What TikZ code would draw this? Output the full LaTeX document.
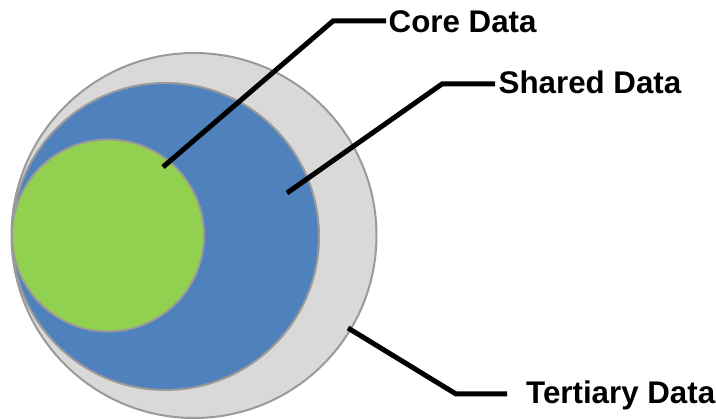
\documentclass[tikz,border=0pt]{standalone}
\usepackage{fontspec}
\setmainfont{Liberation Sans}
\begin{document}
\begin{tikzpicture}[x=1pt,y=-1pt,
  ring/.style={circle,draw=ringgray,line width=2pt,inner sep=0pt},
  leader/.style={line width=5pt,line join=miter},
  tag/.style={anchor=base west,inner sep=0pt,font=\fontsize{31.3}{36}\selectfont\bfseries}]
\definecolor{ringgray}{HTML}{9A9A9A}
\definecolor{tertfill}{HTML}{D9D9D9}
\definecolor{sharedfill}{HTML}{4F81BD}
\definecolor{corefill}{HTML}{92D050}
\useasboundingbox (0,0) rectangle (716,419);

% nested data sets
\node[ring,fill=tertfill,minimum size=365pt] (tertiary) at (194,235.5) {};
\node[ring,fill=sharedfill,minimum size=307pt] (shared) at (165.5,236.5) {};
\node[ring,fill=corefill,minimum size=192pt] (core) at (108,235.5) {};

% labels
\node[tag] (coreLabel) at (388.5,32.5) {Core Data};
\node[tag] (sharedLabel) at (498.5,94) {Shared Data};
\node[tag] (tertLabel) at (526,404) {Tertiary Data};

% leader anchor points
\coordinate (coreTip) at (163,167);
\coordinate (coreBend) at (333,21);
\coordinate (coreEnd) at (386,21);
\coordinate (sharedTip) at (287,193);
\coordinate (sharedBend) at (442,84);
\coordinate (sharedEnd) at (495,84);
\coordinate (tertTip) at (348,328);
\coordinate (tertBend) at (456,394);
\coordinate (tertEnd) at (507,394);

\draw[leader] (coreTip) -- (coreBend) -- (coreEnd);
\draw[leader] (sharedTip) -- (sharedBend) -- (sharedEnd);
\draw[leader] (tertTip) -- (tertBend) -- (tertEnd);
\end{tikzpicture}
\end{document}
